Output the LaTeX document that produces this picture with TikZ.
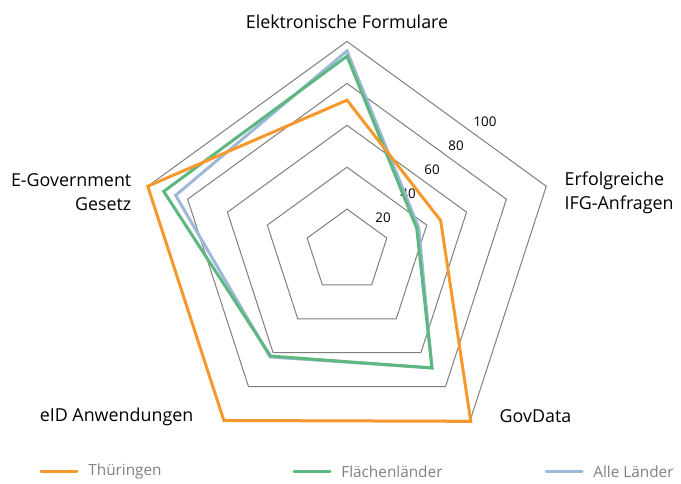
\documentclass[tikz,border=0pt]{standalone}
\usepackage{fontspec}
\setmainfont{Open Sans}
\definecolor{thue}{HTML}{F7982F}
\definecolor{flaeche}{HTML}{5DB77F}
\definecolor{alle}{HTML}{9DB9D9}
\definecolor{netzgrau}{HTML}{7F7F7F}
\definecolor{legtext}{HTML}{808080}
\begin{document}
\begin{tikzpicture}[x=0.75pt,y=0.75pt]
\useasboundingbox (0,0) rectangle (681,484);
\newcommand\netzring[1]{
\path[draw,netzgrau,line width=0.75pt] (90:{2.095*#1}) -- (18:{2.095*#1}) -- (-54:{2.095*#1}) -- (-126:{2.095*#1}) -- (162:{2.095*#1}) -- cycle;
}
\newcommand\reihe[6]{
\path[draw,#1,line width=2.25pt,line join=miter] (90:{2.095*#2}) -- (18:{2.095*#3}) -- (-54:{2.095*#4}) -- (-126:{2.095*#5}) -- (162:{2.095*#6}) -- cycle;
}
\begin{scope}[shift={(347,233)}]
\foreach \v in {20,40,60,80,100} {\netzring{\v}}
\foreach \v/\px/\py in {20/36/33,40/61/57,60/85/81,80/109/105,100/138/129}
  \node[font=\fontsize{10}{12}\selectfont] (w\v) at (\px,\py) {\v};
\reihe{alle}{95.5}{36}{69}{62.5}{86}
\reihe{flaeche}{93}{35}{69}{62}{92}
\reihe{thue}{72}{47}{100.5}{100}{100}
\begin{scope}[font=\fontsize{13.4}{18}\selectfont]
\node (formulare) at (0,229) {Elektronische Formulare};
\node[anchor=west,align=left] (ifg) at (213,58) {Erfolgreiche\\IFG-Anfragen};
\node[anchor=west] (govdata) at (148,-165) {GovData};
\node[anchor=east] (eid) at (-149,-166) {eID Anwendungen};
\node[anchor=east,align=right] (egov) at (-211,59) {E-Government\\Gesetz};
\end{scope}
\end{scope}
% Legende
\begin{scope}[font=\fontsize{11.5}{13}\selectfont,text=legtext]
\foreach \farbe/\xa/\name in {thue/41/Thüringen,flaeche/294/Flächenländer,alle/546/Alle Länder} {
  \coordinate (l\farbe a) at (\xa,12);
  \coordinate (l\farbe b) at (\xa+36,12);
  \path[draw,\farbe,line width=2.25pt,line cap=round] (l\farbe a) -- (l\farbe b);
  \node[anchor=west] (t\farbe) at ([xshift=5pt]l\farbe b) {\name};
}
\end{scope}
\end{tikzpicture}
\end{document}
